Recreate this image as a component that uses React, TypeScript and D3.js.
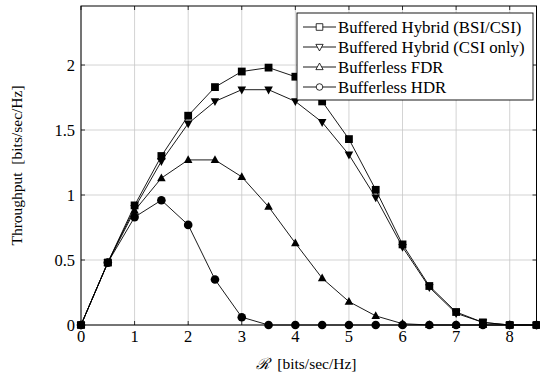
import React, { useRef, useEffect } from 'react';
import * as d3 from 'd3';

const rates = [0, 0.5, 1, 1.5, 2, 2.5, 3, 3.5, 4, 4.5, 5, 5.5, 6, 6.5, 7, 7.5, 8, 8.5];
const bsiCsi = [0, 0.48, 0.92, 1.30, 1.61, 1.83, 1.95, 1.98, 1.91, 1.72, 1.43, 1.04, 0.62, 0.30, 0.10, 0.02, 0, 0];
const csiOnly = [0, 0.48, 0.90, 1.26, 1.55, 1.72, 1.81, 1.81, 1.72, 1.56, 1.31, 0.98, 0.60, 0.29, 0.09, 0.02, 0, 0];
const fdr = [0, 0.48, 0.88, 1.13, 1.27, 1.27, 1.14, 0.91, 0.63, 0.36, 0.18, 0.07, 0.01, 0, 0, 0, 0, 0];
const hdr = [0, 0.48, 0.83, 0.96, 0.77, 0.35, 0.06, 0, 0, 0, 0, 0, 0, 0, 0, 0, 0, 0];
const seriesNames = ['Buffered Hybrid (BSI/CSI)', 'Buffered Hybrid (CSI only)', 'Bufferless FDR', 'Bufferless HDR'];
const xTicks = [0, 1, 2, 3, 4, 5, 6, 7, 8];
const yTicks = [0, 0.5, 1, 1.5, 2];

type Marker = 'square' | 'triDown' | 'triUp' | 'circle';
const markers: Marker[] = ['square', 'triDown', 'triUp', 'circle'];

function markerPath(m: Marker, s: number): string {
  switch (m) {
    case 'square':
      return `M${-s},${-s}H${s}V${s}H${-s}Z`;
    case 'triDown':
      return `M${-s * 1.1},${-s * 0.8}L${s * 1.1},${-s * 0.8}L0,${s * 1.2}Z`;
    case 'triUp':
      return `M${-s * 1.1},${s * 0.8}L${s * 1.1},${s * 0.8}L0,${-s * 1.2}Z`;
    default:
      return d3.arc()({ innerRadius: 0, outerRadius: s, startAngle: 0, endAngle: Math.PI * 2 }) as string;
  }
}

export default function App() {
  const svgRef = useRef<SVGSVGElement>(null);

  useEffect(() => {
    if (!svgRef.current) return;
    const svg = d3.select(svgRef.current);
    svg.selectAll('*').remove();

    const W = 540, H = 379;
    const m = { left: 81, right: 3, top: 6, bottom: 54 };
    const x = d3.scaleLinear().domain([0, 8.5]).range([m.left, W - m.right - 0.5]);
    const y = d3.scaleLinear().domain([0, 2.454]).range([H - m.bottom, m.top]);
    const font = '"Liberation Serif", "Times New Roman", serif';

    const g = svg.append('g');

    // grid
    g.selectAll('.gx').data(xTicks).enter().append('line')
      .attr('x1', d => x(d)).attr('x2', d => x(d))
      .attr('y1', y(0)).attr('y2', m.top)
      .attr('stroke', '#c8c8c8').attr('stroke-width', 0.8);
    g.selectAll('.gy').data(yTicks).enter().append('line')
      .attr('x1', m.left).attr('x2', x(8.5))
      .attr('y1', d => y(d)).attr('y2', d => y(d))
      .attr('stroke', '#c8c8c8').attr('stroke-width', 0.8);

    // inward ticks on all sides
    const tl = 4;
    xTicks.forEach(t => {
      g.append('line').attr('x1', x(t)).attr('x2', x(t)).attr('y1', y(0)).attr('y2', y(0) - tl).attr('stroke', '#000').attr('stroke-width', 0.8);
      g.append('line').attr('x1', x(t)).attr('x2', x(t)).attr('y1', m.top).attr('y2', m.top + tl).attr('stroke', '#000').attr('stroke-width', 0.8);
    });
    yTicks.forEach(t => {
      g.append('line').attr('x1', m.left).attr('x2', m.left + tl).attr('y1', y(t)).attr('y2', y(t)).attr('stroke', '#000').attr('stroke-width', 0.8);
      g.append('line').attr('x1', x(8.5)).attr('x2', x(8.5) - tl).attr('y1', y(t)).attr('y2', y(t)).attr('stroke', '#000').attr('stroke-width', 0.8);
    });

    // tick labels
    g.selectAll('.xl').data(xTicks).enter().append('text')
      .attr('x', d => x(d)).attr('y', y(0) + 17)
      .attr('text-anchor', 'middle').attr('font-family', font).attr('font-size', 16.5)
      .text(d => String(d));
    g.selectAll('.yl').data(yTicks).enter().append('text')
      .attr('x', m.left - 6).attr('y', d => y(d) + 5.5)
      .attr('text-anchor', 'end').attr('font-family', font).attr('font-size', 16.5)
      .text(d => String(d));

    // axis labels
    const xl = g.append('text').attr('x', 306).attr('y', 369)
      .attr('text-anchor', 'middle').attr('font-family', font).attr('font-size', 15.5);
    xl.append('tspan').attr('font-style', 'italic').text('ℛ');
    xl.append('tspan').text('\u00a0\u00a0[bits/sec/Hz]');
    g.append('text').attr('transform', `translate(22,${(y(0) + m.top) / 2}) rotate(-90)`)
      .attr('text-anchor', 'middle').attr('font-family', font).attr('font-size', 15.5)
      .text('Throughput\u00a0\u00a0[bits/sec/Hz]');

    // series
    const data = [bsiCsi, csiOnly, fdr, hdr];
    const line = d3.line<number>().x((_, i) => x(rates[i])).y(d => y(d));
    const plot = g.append('g');
    data.forEach((vals, si) => {
      plot.append('path').datum(vals).attr('d', line)
        .attr('fill', 'none').attr('stroke', '#000').attr('stroke-width', 0.9);
      plot.selectAll(`.m${si}`).data(vals).enter().append('path')
        .attr('transform', (d, i) => `translate(${x(rates[i])},${y(d)})`)
        .attr('d', markerPath(markers[si], markers[si] === 'circle' ? 4.3 : 3.9))
        .attr('fill', '#000');
    });

    // frame
    g.append('rect').attr('x', m.left).attr('y', m.top)
      .attr('width', x(8.5) - m.left).attr('height', y(0) - m.top)
      .attr('fill', 'none').attr('stroke', '#000').attr('stroke-width', 1);

    // legend
    const lg = g.append('g');
    lg.append('rect').attr('x', 297).attr('y', 13).attr('width', 236).attr('height', 87)
      .attr('fill', '#fff').attr('stroke', '#000').attr('stroke-width', 0.9);
    seriesNames.forEach((name, i) => {
      const cy = 27 + i * 20;
      lg.append('line').attr('x1', 303).attr('x2', 336).attr('y1', cy).attr('y2', cy)
        .attr('stroke', '#000').attr('stroke-width', 0.9);
      lg.append('path').attr('transform', `translate(319.5,${cy})`)
        .attr('d', markerPath(markers[i], 3.3))
        .attr('fill', '#fff').attr('stroke', '#000').attr('stroke-width', 0.8);
      lg.append('text').attr('x', 338).attr('y', cy + 5.5)
        .attr('font-family', font).attr('font-size', 16.8).text(name);
    });
  }, []);

  return (
    <div style={{ position: 'absolute', left: 0, top: 0 }}>
      <svg ref={svgRef} width={540} height={379} style={{ display: 'block', background: '#fff' }} />
    </div>
  );
}
